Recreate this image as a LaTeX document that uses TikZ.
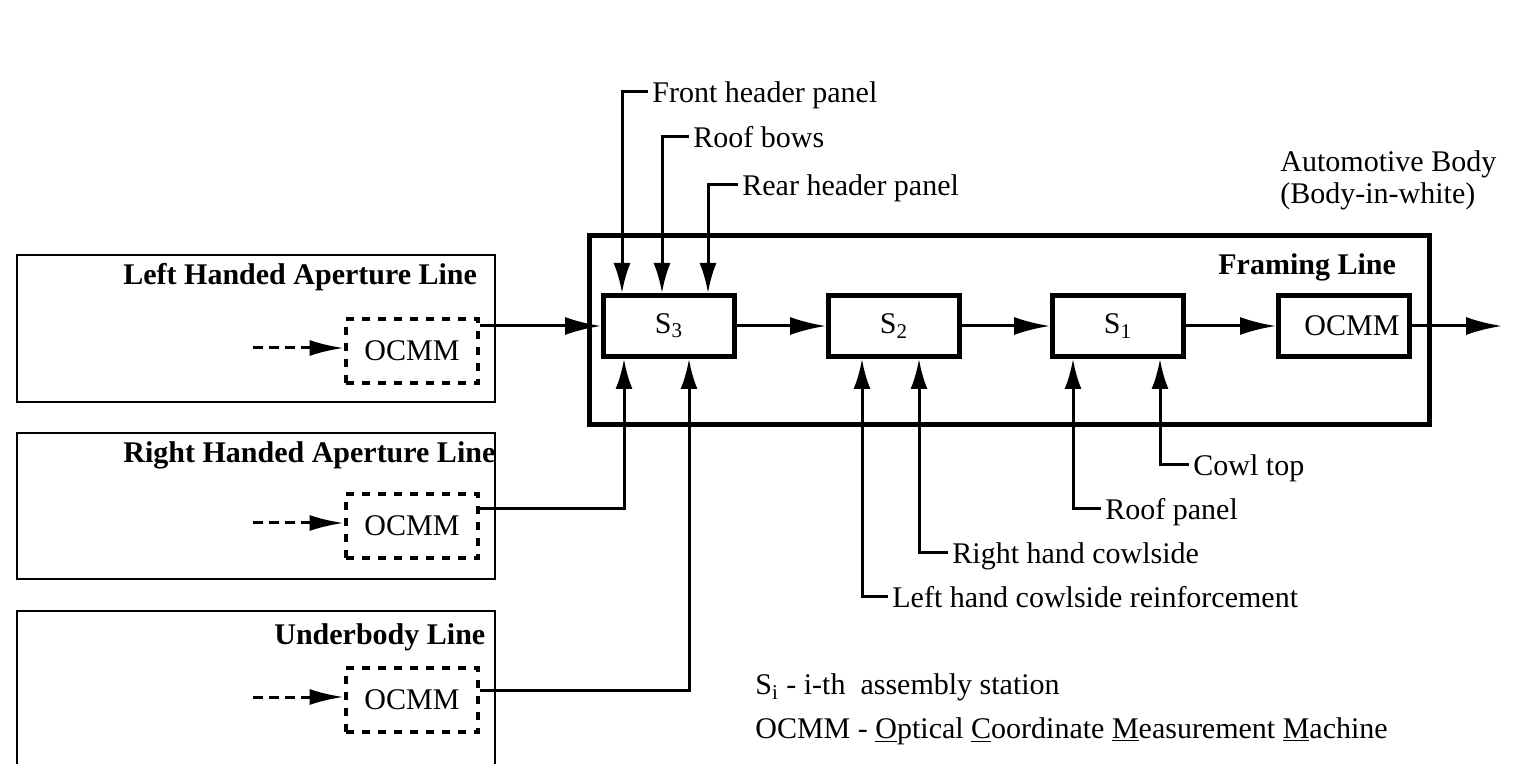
\documentclass[tikz,border=0pt]{standalone}
\usepackage{fontspec}
\setmainfont{Liberation Serif}
\usetikzlibrary{arrows.meta,calc}
\begin{document}
\begin{tikzpicture}[x=0.5pt,y=-0.5pt]
\tikzset{
    every node/.style={font=\fontsize{15}{16}\selectfont},
    flow/.style={-{Latex[length=18pt,width=9pt]}, line width=1.5pt},
    feed/.style={-{Latex[length=15pt,width=8.5pt]}, line width=1.5pt},
    probefeed/.style={-{Latex[length=17pt,width=8pt]}, line width=1.5pt, dash pattern=on 5pt off 3pt},
    station/.style={rectangle, draw=black, line width=2.5pt,
                    minimum width=65.5pt, minimum height=30.5pt, inner sep=0pt},
    probe/.style={rectangle, draw=black, line width=2.4pt, dash pattern=on 4pt off 4pt,
                  minimum width=66pt, minimum height=32pt, inner sep=0pt},
    linebox/.style={line width=1pt},
    heading/.style={anchor=base west, inner sep=0pt, font=\fontsize{15}{16}\selectfont\bfseries},
    tag/.style={anchor=west, inner sep=2pt, text depth=0pt}
}
\useasboundingbox (0,0) rectangle (1538,764);
% sub-assembly lines
\draw[linebox] (17,255) rectangle (495,402);
\draw[linebox] (17,433) rectangle (495,579);
\draw[linebox] (17,780) -- (17,611) -- (495,611) -- (495,780);
\node[heading] (lhlT) at (123,285) {Left Handed Aperture Line};
\node[heading] (rhlT) at (123,463) {Right Handed Aperture Line};
\node[heading] (ublT) at (274,645) {Underbody Line};
\node[probe] (ocmmL) at (412,351) {OCMM};
\node[probe] (ocmmR) at (412,526) {OCMM};
\node[probe] (ocmmU) at (412,700) {OCMM};
\coordinate (inL) at (253,348);
\coordinate (inR) at (253,523);
\coordinate (inU) at (253,697);
\draw[probefeed] (inL) -- (inL -| ocmmL.west);
\draw[probefeed] (inR) -- (inR -| ocmmR.west);
\draw[probefeed] (inU) -- (inU -| ocmmU.west);
% framing line
\draw[line width=2.5pt] (589,236) rectangle (1429,425);
\node[heading] (frT) at (1218,275) {Framing Line};
\node[station] (S3) at (669,326) {S\textsubscript{3}};
\node[station] (S2) at (894,326) {S\textsubscript{2}};
\node[station] (S1) at (1118,326) {S\textsubscript{1}};
\node[station] (ocmmF) at (1344,326) {\hspace{8pt}OCMM};
\coordinate (out) at (1502,326);
\draw[flow] (ocmmL.east |- S3) -- (S3.west);
\draw[flow] (S3) -- (S2);
\draw[flow] (S2) -- (S1);
\draw[flow] (S1) -- (ocmmF);
\draw[flow] (ocmmF) -- (out);
\draw[feed] ($(ocmmR.east)+(0,-17)$) -| ($(S3.south west)+(23,0)$);
\draw[feed] ($(ocmmU.east)+(0,-10)$) -| ($(S3.south west)+(88,0)$);
% parts fed from above
\node[tag] (fhp) at (648,92)  {Front header panel};
\node[tag] (rbw) at (689,137) {Roof bows};
\node[tag] (rhp) at (738,185) {Rear header panel};
\draw[feed] (fhp.west) -| ($(S3.north west)+(21,0)$);
\draw[feed] (rbw.west) -| ($(S3.north west)+(61,0)$);
\draw[feed] (rhp.west) -| ($(S3.north west)+(107,0)$);
% parts fed from below
\node[tag] (lhc) at (888,597)  {Left hand cowlside reinforcement};
\node[tag] (rhc) at (948,553)  {Right hand cowlside};
\node[tag] (rfp) at (1101,509) {Roof panel};
\node[tag] (cwt) at (1189,465) {Cowl top};
\draw[feed] (lhc.west) -| ($(S2.south west)+(36,0)$);
\draw[feed] (rhc.west) -| ($(S2.south west)+(93,0)$);
\draw[feed] (rfp.west) -| ($(S1.south west)+(23,0)$);
\draw[feed] (cwt.west) -| ($(S1.south west)+(110,0)$);
% product and legend
\node[anchor=base west, inner sep=0pt] (biw1) at (1280,172) {Automotive Body};
\node[anchor=base west, inner sep=0pt] (biw2) at (1280,204) {(Body-in-white)};
\node[anchor=base west, inner sep=0pt] (key1) at (755,695) {S\textsubscript{i} - i-th\ \ assembly station};
\node[anchor=base west, inner sep=0pt] (key2) at (755,738)
    {OCMM - \underline{O}ptical \underline{C}oordinate \underline{M}easurement \underline{M}achine};
\end{tikzpicture}
\end{document}
